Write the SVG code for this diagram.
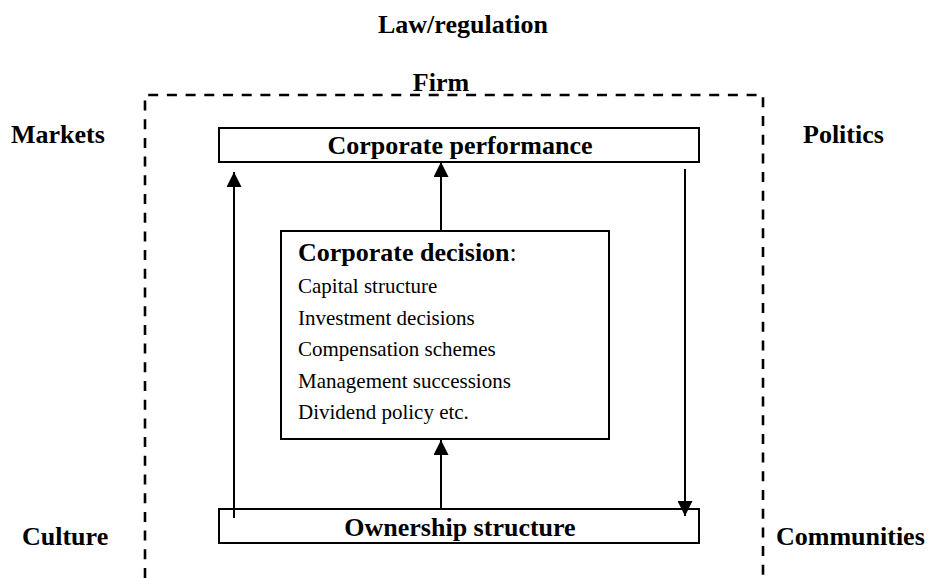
<svg xmlns="http://www.w3.org/2000/svg" width="930" height="578" viewBox="0 0 930 578">
<style>
text{font-family:"Liberation Serif","Times New Roman",serif;fill:#000}
.b{font-weight:bold;font-size:26px}
.r{font-size:21px}
.box{fill:#fff;stroke:#000;stroke-width:2}
.ln{stroke:#000;stroke-width:2;fill:none}
.dash{stroke:#000;stroke-width:2.6;fill:none;stroke-dasharray:10 8.7}
</style>
<defs>
<marker id="ah" viewBox="0 0 15 15" refX="15" refY="7.5" markerWidth="15" markerHeight="15" markerUnits="userSpaceOnUse" orient="auto">
<path d="M0,0 L15,7.5 L0,15 Z" fill="#000"/>
</marker>
</defs>
<rect width="930" height="578" fill="#fff"/>
<g id="context">
<text class="b" x="463" y="33" text-anchor="middle">Law/regulation</text>
<text class="b" x="11" y="143">Markets</text>
<text class="b" x="803" y="143">Politics</text>
<text class="b" x="22" y="545">Culture</text>
<text class="b" x="776" y="545">Communities</text>
</g>
<g id="firm">
<path class="dash" d="M145,578 V95 H763 V578"/>
<text class="b" x="441" y="91" text-anchor="middle">Firm</text>
</g>
<g id="performance">
<rect class="box" x="219" y="128" width="480" height="34"/>
<text class="b" x="460" y="154" text-anchor="middle">Corporate performance</text>
</g>
<g id="decision">
<rect class="box" x="281" y="231" width="328" height="208"/>
<text x="298" y="261"><tspan class="b">Corporate decision</tspan><tspan font-size="26">:</tspan></text>
<text class="r" x="298" y="293">Capital structure</text>
<text class="r" x="298" y="324.5">Investment decisions</text>
<text class="r" x="298" y="356">Compensation schemes</text>
<text class="r" x="298" y="387.5">Management successions</text>
<text class="r" x="298" y="419">Dividend policy etc.</text>
</g>
<g id="ownership">
<rect class="box" x="219" y="509" width="480" height="34"/>
<text class="b" x="460" y="536" text-anchor="middle">Ownership structure</text>
</g>
<g id="connectors">
<line class="ln" x1="234" y1="518" x2="234" y2="172" marker-end="url(#ah)"/>
<line class="ln" x1="441" y1="231" x2="441" y2="162" marker-end="url(#ah)"/>
<line class="ln" x1="685" y1="169" x2="685" y2="516" marker-end="url(#ah)"/>
<line class="ln" x1="441" y1="509" x2="441" y2="440" marker-end="url(#ah)"/>
</g>
</svg>
